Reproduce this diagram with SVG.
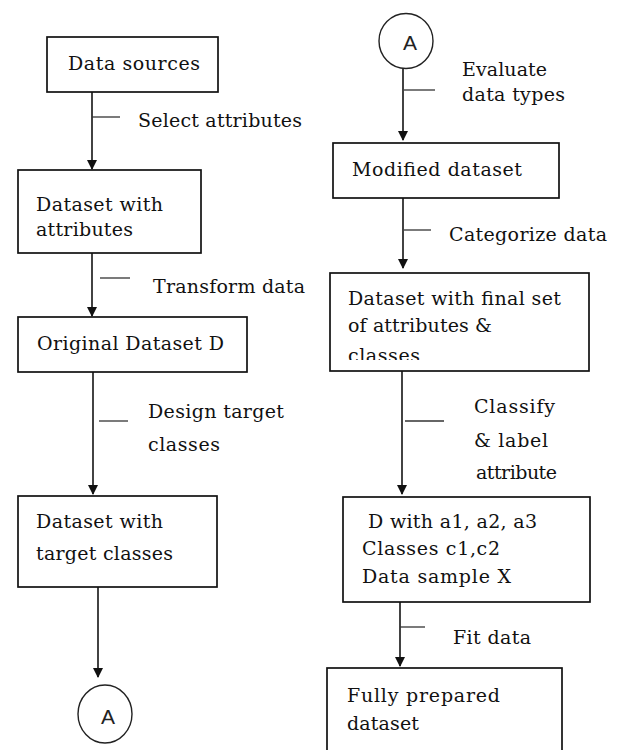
<svg xmlns="http://www.w3.org/2000/svg" width="617" height="750" viewBox="0 0 617 750">
<style>
.box{fill:#fff;stroke:#111;stroke-width:1.7}
.t{font-family:"DejaVu Serif","Liberation Serif",serif;font-size:19px;fill:#111}
.lbl{font-family:"DejaVu Serif","Liberation Serif",serif;font-size:19px;fill:#111}
.conn{stroke:#222;stroke-width:1.7;fill:none}
.tick{stroke:#333;stroke-width:1.3}
.circ{fill:#fff;stroke:#222;stroke-width:1.4}
.a{font-family:"Liberation Sans","DejaVu Sans",sans-serif;font-size:21px;fill:#222;text-anchor:middle}
</style>
<defs>
<clipPath id="clip3"><rect x="331" y="274" width="257" height="86"/></clipPath>
</defs>
<rect width="617" height="750" fill="#fff"/>
<g id="connectors">
<path class="conn" d="M92,92 V169"/>
<path class="conn" d="M92,253 V316"/>
<path class="conn" d="M93,372 V494"/>
<path class="conn" d="M98,587 V677"/>
<path class="conn" d="M403,68 V140"/>
<path class="conn" d="M403,198 V268"/>
<path class="conn" d="M402,371 V494"/>
<path class="conn" d="M400,602 V666"/>
<g fill="#111">
<path d="M87,160 L97,160 L92,170 Z"/>
<path d="M87,307 L97,307 L92,317 Z"/>
<path d="M88,485 L98,485 L93,495 Z"/>
<path d="M93,668 L103,668 L98,678 Z"/>
<path d="M398,131 L408,131 L403,141 Z"/>
<path d="M398,259 L408,259 L403,269 Z"/>
<path d="M397,485 L407,485 L402,495 Z"/>
<path d="M395,657 L405,657 L400,667 Z"/>
</g>
<g class="tick">
<line x1="92" y1="117" x2="120" y2="117"/>
<line x1="100" y1="278" x2="130" y2="278"/>
<line x1="99" y1="421" x2="128" y2="421"/>
<line x1="404" y1="90" x2="435" y2="90"/>
<line x1="404" y1="230" x2="431" y2="230"/>
<line x1="405" y1="421" x2="444" y2="421"/>
<line x1="400" y1="627" x2="425" y2="627"/>
</g>
<text class="lbl" x="138" y="127" textLength="164">Select attributes</text>
<text class="lbl" x="153" y="293" textLength="152">Transform data</text>
<text class="lbl" x="148" y="418" textLength="136">Design target</text>
<text class="lbl" x="148" y="451" textLength="72">classes</text>
<text class="lbl" x="462" y="76" textLength="85">Evaluate</text>
<text class="lbl" x="462" y="101" textLength="103">data types</text>
<text class="lbl" x="449" y="241" textLength="158">Categorize data</text>
<text class="lbl" x="474" y="413" textLength="81">Classify</text>
<text class="lbl" x="474" y="447" textLength="74">&amp; label</text>
<text class="lbl" x="476" y="479" textLength="81">attribute</text>
<text class="lbl" x="453" y="644" textLength="78">Fit data</text>
</g>
<g id="n1">
<rect class="box" x="47" y="37" width="171" height="55"/>
<text class="t" x="68" y="70" textLength="132">Data sources</text>
</g>
<g id="n2">
<rect class="box" x="18" y="170" width="183" height="83"/>
<text class="t" x="36" y="211" textLength="127">Dataset with</text>
<text class="t" x="36" y="236" textLength="97">attributes</text>
</g>
<g id="n3">
<rect class="box" x="18" y="317" width="229" height="55"/>
<text class="t" x="37" y="350" textLength="187">Original Dataset D</text>
</g>
<g id="n4">
<rect class="box" x="18" y="496" width="199" height="91"/>
<text class="t" x="36" y="528" textLength="127">Dataset with</text>
<text class="t" x="36" y="560" textLength="137">target classes</text>
</g>
<g id="a1">
<ellipse class="circ" cx="105" cy="714" rx="27" ry="29"/>
<text class="a" x="108" y="724">A</text>
</g>
<g id="a2">
<ellipse class="circ" cx="406" cy="41" rx="27" ry="27.5"/>
<text class="a" x="410" y="50">A</text>
</g>
<g id="n5">
<rect class="box" x="333" y="143" width="226" height="55"/>
<text class="t" x="352" y="176" textLength="170">Modified dataset</text>
</g>
<g id="n6">
<rect class="box" x="330" y="273" width="259" height="98"/>
<text class="t" x="348" y="305" textLength="213">Dataset with final set</text>
<text class="t" x="348" y="332" textLength="144">of attributes &amp;</text>
<text class="t" x="348" y="362" textLength="72" clip-path="url(#clip3)">classes</text>
</g>
<g id="n7">
<rect class="box" x="343" y="497" width="247" height="105"/>
<text class="t" x="368" y="528" textLength="169">D with a1, a2, a3</text>
<text class="t" x="362" y="555" textLength="138">Classes c1,c2</text>
<text class="t" x="362" y="583" textLength="149">Data sample X</text>
</g>
<g id="n8">
<rect class="box" x="327" y="668" width="235" height="100"/>
<text class="t" x="347" y="702" textLength="153">Fully prepared</text>
<text class="t" x="347" y="730" textLength="72">dataset</text>
</g>
</svg>
